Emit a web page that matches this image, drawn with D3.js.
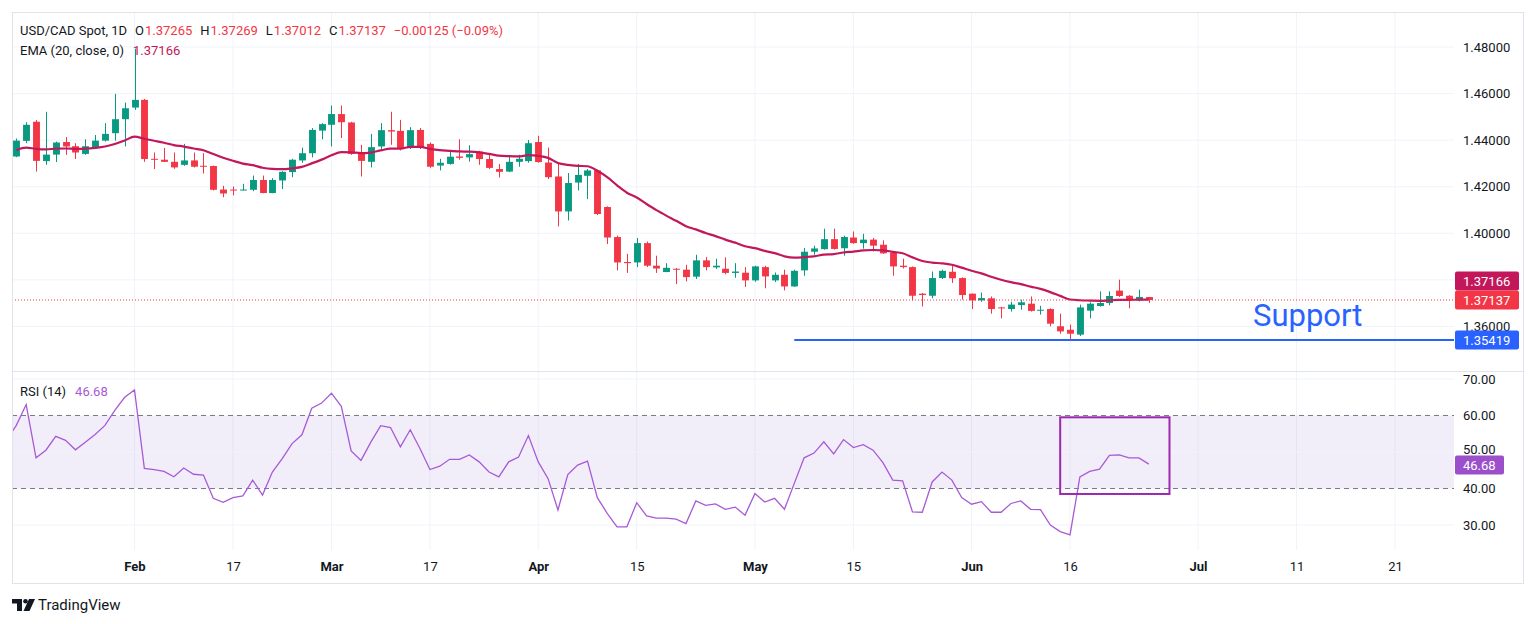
<!DOCTYPE html>
<html>
<head>
<meta charset="utf-8">
<script src="https://cdn.jsdelivr.net/npm/d3@7/dist/d3.min.js"></script>
<style>
    html, body { margin: 0; padding: 0; background: #fff; }
    svg { display: block; font-family: Roboto, "Trebuchet MS", sans-serif; }
</style>
</head>
<body>
<svg id="chart" width="1536" height="624"></svg>
<script>
// bar index 0 = Feb 3 2025, one bar per trading day
const firstBar = -12;
// [open, high, low, close]
const candles = [
    [1.4330, 1.4407, 1.4327, 1.4398], [1.4397, 1.4477, 1.4387, 1.4466], [1.4479, 1.4486, 1.4265, 1.4311],
    [1.4310, 1.4522, 1.4294, 1.4338], [1.4338, 1.4394, 1.4306, 1.4390], [1.4392, 1.4413, 1.4337, 1.4373],
    [1.4374, 1.4387, 1.4319, 1.4347], [1.4341, 1.4404, 1.4337, 1.4374], [1.4370, 1.4422, 1.4366, 1.4398],
    [1.4398, 1.4473, 1.4394, 1.4427], [1.4430, 1.4599, 1.4398, 1.4490], [1.4490, 1.4561, 1.4373, 1.4537],
    [1.4540, 1.4793, 1.4530, 1.4573], [1.4573, 1.4577, 1.4307, 1.4319], [1.4320, 1.4347, 1.4276, 1.4317],
    [1.4316, 1.4367, 1.4306, 1.4307], [1.4307, 1.4347, 1.4277, 1.4283], [1.4294, 1.4384, 1.4290, 1.4313],
    [1.4313, 1.4347, 1.4283, 1.4286], [1.4290, 1.4344, 1.4257, 1.4287], [1.4289, 1.4291, 1.4184, 1.4187],
    [1.4188, 1.4204, 1.4155, 1.4171], [1.4188, 1.4201, 1.4163, 1.4186], [1.4186, 1.4213, 1.4184, 1.4188],
    [1.4187, 1.4248, 1.4181, 1.4229], [1.4229, 1.4248, 1.4172, 1.4173], [1.4173, 1.4237, 1.4172, 1.4229],
    [1.4227, 1.4267, 1.4190, 1.4264], [1.4263, 1.4320, 1.4241, 1.4316], [1.4313, 1.4368, 1.4303, 1.4344],
    [1.4344, 1.4452, 1.4326, 1.4444], [1.4441, 1.4473, 1.4404, 1.4469], [1.4466, 1.4549, 1.4373, 1.4512],
    [1.4512, 1.4549, 1.4409, 1.4477], [1.4476, 1.4479, 1.4337, 1.4341], [1.4344, 1.4380, 1.4244, 1.4311],
    [1.4307, 1.4427, 1.4283, 1.4370], [1.4373, 1.4473, 1.4356, 1.4443], [1.4443, 1.4522, 1.4380, 1.4437],
    [1.4440, 1.4487, 1.4356, 1.4362], [1.4366, 1.4456, 1.4362, 1.4443], [1.4444, 1.4452, 1.4362, 1.4368],
    [1.4384, 1.4390, 1.4281, 1.4286], [1.4291, 1.4320, 1.4270, 1.4303], [1.4298, 1.4351, 1.4295, 1.4329],
    [1.4330, 1.4404, 1.4316, 1.4324], [1.4326, 1.4378, 1.4308, 1.4340], [1.4351, 1.4354, 1.4294, 1.4319],
    [1.4319, 1.4336, 1.4276, 1.4281], [1.4276, 1.4298, 1.4240, 1.4264], [1.4265, 1.4333, 1.4263, 1.4307],
    [1.4307, 1.4337, 1.4286, 1.4320], [1.4310, 1.4401, 1.4303, 1.4387], [1.4392, 1.4419, 1.4303, 1.4306],
    [1.4304, 1.4368, 1.4233, 1.4241], [1.4244, 1.4304, 1.4030, 1.4094], [1.4094, 1.4259, 1.4055, 1.4216],
    [1.4218, 1.4298, 1.4184, 1.4251], [1.4247, 1.4276, 1.4147, 1.4270], [1.4270, 1.4273, 1.4078, 1.4083],
    [1.4113, 1.4116, 1.3954, 1.3982], [1.3984, 1.3990, 1.3841, 1.3875], [1.3877, 1.3912, 1.3830, 1.3872],
    [1.3875, 1.3980, 1.3855, 1.3958], [1.3958, 1.3965, 1.3855, 1.3861], [1.3861, 1.3904, 1.3830, 1.3849],
    [1.3834, 1.3872, 1.3833, 1.3852], [1.3848, 1.3851, 1.3782, 1.3844], [1.3844, 1.3865, 1.3794, 1.3812],
    [1.3814, 1.3908, 1.3804, 1.3884], [1.3884, 1.3898, 1.3841, 1.3855], [1.3854, 1.3891, 1.3847, 1.3861],
    [1.3848, 1.3897, 1.3824, 1.3830], [1.3830, 1.3872, 1.3809, 1.3836], [1.3831, 1.3855, 1.3770, 1.3798],
    [1.3798, 1.3861, 1.3792, 1.3858], [1.3855, 1.3861, 1.3764, 1.3815], [1.3798, 1.3832, 1.3791, 1.3822],
    [1.3822, 1.3844, 1.3755, 1.3772], [1.3772, 1.3844, 1.3770, 1.3839], [1.3841, 1.3937, 1.3818, 1.3921],
    [1.3921, 1.3947, 1.3908, 1.3935], [1.3932, 1.4020, 1.3930, 1.3975], [1.3975, 1.4020, 1.3930, 1.3933],
    [1.3936, 1.3990, 1.3904, 1.3984], [1.3982, 1.4008, 1.3955, 1.3958], [1.3958, 1.3998, 1.3934, 1.3973],
    [1.3973, 1.3980, 1.3922, 1.3947], [1.3951, 1.3970, 1.3912, 1.3914], [1.3918, 1.3921, 1.3818, 1.3858],
    [1.3861, 1.3891, 1.3849, 1.3855], [1.3855, 1.3858, 1.3712, 1.3732], [1.3741, 1.3744, 1.3686, 1.3735],
    [1.3732, 1.3836, 1.3721, 1.3808], [1.3808, 1.3844, 1.3804, 1.3839], [1.3835, 1.3861, 1.3787, 1.3807],
    [1.3808, 1.3811, 1.3715, 1.3735], [1.3741, 1.3742, 1.3675, 1.3712], [1.3712, 1.3746, 1.3706, 1.3722],
    [1.3721, 1.3729, 1.3655, 1.3675], [1.3682, 1.3684, 1.3635, 1.3678], [1.3675, 1.3706, 1.3664, 1.3694],
    [1.3692, 1.3715, 1.3672, 1.3704], [1.3698, 1.3729, 1.3664, 1.3667], [1.3668, 1.3689, 1.3651, 1.3672],
    [1.3675, 1.3678, 1.3601, 1.3612], [1.3601, 1.3655, 1.3569, 1.3579], [1.3586, 1.3608, 1.3542, 1.3569],
    [1.3565, 1.3694, 1.3559, 1.3682], [1.3668, 1.3704, 1.3635, 1.3698], [1.3688, 1.3751, 1.3685, 1.3701],
    [1.3701, 1.3751, 1.3691, 1.3731], [1.3754, 1.3801, 1.3727, 1.3731], [1.3732, 1.3735, 1.3678, 1.3715],
    [1.3712, 1.3758, 1.3708, 1.3727], [1.37265, 1.37269, 1.37012, 1.37137]
];

// EMA(20) value on the first visible bar
const emaSeed = 1.4358;
const emaLength = 20;
const emaLast = 1.37166;

// RSI(14), starts one bar before the first candle
const rsiFirstBar = -13;
const rsiValues = [
    53.2, 57.3, 63.0, 48.4, 50.5, 54.3, 53.2, 50.6, 52.7, 54.8, 57.3, 61.4, 65.0, 67.0,
    45.5, 45.2, 44.7, 43.2, 45.6, 43.9, 43.7, 37.3, 36.2, 37.5,
    38.0, 42.3, 38.2, 44.5, 48.2, 52.3, 54.7, 62.0, 63.4, 66.1,
    62.5, 50.3, 47.7, 52.7, 57.2, 56.7, 51.4, 56.1, 50.9, 45.2,
    46.1, 48.0, 48.0, 49.2, 47.3, 44.5, 43.2, 47.3, 48.6, 54.5,
    47.3, 42.7, 34.1, 43.8, 46.4, 47.5, 37.5, 33.2, 29.5, 29.5,
    36.1, 32.5, 31.9, 31.9, 31.6, 30.4, 36.6, 35.4, 35.8, 34.3,
    34.9, 32.7, 38.6, 36.3, 37.3, 34.3, 41.4, 48.4, 49.7, 52.8,
    49.5, 53.4, 51.2, 52.0, 50.5, 47.1, 42.3, 42.1, 33.6, 33.5,
    41.8, 44.5, 42.3, 37.5, 35.7, 36.4, 33.5, 33.5, 35.9, 36.6,
    34.3, 34.2, 30.0, 28.2, 27.3, 43.2, 44.7, 45.3, 49.1, 49.2,
    48.4, 48.4, 46.68
];

const tickBars = [0, 10, 20, 30, 41, 51, 63, 73, 85, 95, 108, 118, 128];
const tickLabels = ["Feb", "17", "Mar", "17", "Apr", "15", "May", "15", "Jun", "16", "Jul", "11", "21"];
const monthLabels = ["Feb", "Mar", "Apr", "May", "Jun", "Jul"];

const priceTicks = [1.48, 1.46, 1.44, 1.42, 1.40, 1.38, 1.36];
const rsiTicks = [70, 60, 50, 40, 30];
const rsiBand = [60, 40];

const supportLevel = 1.35419;
const supportFromBar = 67;
// highlight box on the RSI pane: bars and RSI range
const boxBars = [94, 105.1];
const boxRsi = [59.5, 38.5];

const symbolText = "USD/CAD Spot, 1D";
const ohlcKeys = ["O", "H", "L", "C"];
const ohlcText = ["1.37265", "1.37269", "1.37012", "1.37137"];
const changeText = "\u22120.00125 (\u22120.09%)";

// ---------------------------------------------------------------

const C = {
    text: "#131722", grid: "#f0f3fa", border: "#e0e3eb",
    up: "#089981", down: "#f23645", ema: "#c2185b",
    rsi: "#a85ad6", rsiBox: "#9c4fcb", band: "rgba(126, 87, 194, 0.1)",
    blue: "#2962ff", boxPurple: "#9c27b0"
};

const frame = { left: 12, top: 12, right: 1523, bottom: 583 };
const paneRight = 1454;
const priceBottom = 371;
const rsiBottom = 550;

const svg = d3.select("#chart");

const x = d3.scaleLinear().domain([0, 128]).range([134.5, 1395]);
const y = d3.scaleLinear().domain([1.36, 1.48]).range([326.5, 47]);
const yR = d3.scaleLinear().domain([30, 70]).range([525, 379]);

const bars = candles.map((c, k) => ({ bar: firstBar + k, o: c[0], h: c[1], l: c[2], c: c[3] }));

// EMA from closes
let e = emaSeed;
const ema = bars.map((d, k) => {
    if (k > 0) e = e + (2 / (emaLength + 1)) * (d.c - e);
    return { bar: d.bar, v: e };
});

const rsi = rsiValues.map((v, k) => ({ bar: rsiFirstBar + k, v }));

// clip paths
const defs = svg.append("defs");
defs.append("clipPath").attr("id", "clipPrice").append("rect")
    .attr("x", frame.left).attr("y", frame.top)
    .attr("width", paneRight - frame.left).attr("height", priceBottom - frame.top);
defs.append("clipPath").attr("id", "clipRsi").append("rect")
    .attr("x", frame.left).attr("y", priceBottom)
    .attr("width", paneRight - frame.left).attr("height", rsiBottom - priceBottom);

// vertical grid
svg.append("g").selectAll("line")
    .data(tickBars)
    .enter().append("line")
    .attr("x1", d => x(d)).attr("x2", d => x(d))
    .attr("y1", frame.top).attr("y2", rsiBottom)
    .attr("stroke", C.grid);

// horizontal price grid
svg.append("g").selectAll("line")
    .data(priceTicks)
    .enter().append("line")
    .attr("x1", frame.left).attr("x2", paneRight)
    .attr("y1", d => y(d)).attr("y2", d => y(d))
    .attr("stroke", C.grid);

// price pane
const gp = svg.append("g").attr("clip-path", "url(#clipPrice)");

const bodyW = (x(1) - x(0)) * 0.7;
const candle = gp.selectAll(".candle")
    .data(bars)
    .enter().append("g")
    .attr("fill", d => d.c >= d.o ? C.up : C.down)
    .attr("stroke", d => d.c >= d.o ? C.up : C.down);

candle.append("line")
    .attr("x1", d => Math.round(x(d.bar)) + 0.5).attr("x2", d => Math.round(x(d.bar)) + 0.5)
    .attr("y1", d => y(d.h)).attr("y2", d => y(d.l))
    .attr("stroke-width", 1);

candle.append("rect")
    .attr("x", d => Math.round(x(d.bar)) + 0.5 - bodyW / 2)
    .attr("y", d => y(Math.max(d.o, d.c)))
    .attr("width", bodyW)
    .attr("height", d => Math.max(1, Math.abs(y(d.o) - y(d.c))))
    .attr("stroke", "none");

// EMA
gp.append("path")
    .datum(ema)
    .attr("fill", "none")
    .attr("stroke", C.ema)
    .attr("stroke-width", 2.2)
    .attr("stroke-linejoin", "round")
    .attr("d", d3.line().x(d => x(d.bar)).y(d => y(d.v)).curve(d3.curveMonotoneX));

// last price dotted line
const lastClose = bars[bars.length - 1].c;
gp.append("line")
    .attr("x1", frame.left).attr("x2", paneRight)
    .attr("y1", y(lastClose)).attr("y2", y(lastClose))
    .attr("stroke", C.down).attr("stroke-width", 1)
    .attr("stroke-dasharray", "1,2");

// support line
gp.append("line")
    .attr("x1", x(supportFromBar)).attr("x2", paneRight)
    .attr("y1", y(supportLevel)).attr("y2", y(supportLevel))
    .attr("stroke", C.blue).attr("stroke-width", 2);

svg.append("text")
    .attr("x", 1253).attr("y", y(supportLevel) - 14)
    .style("font-size", "31px")
    .style("fill", C.blue)
    .text("Support");

// RSI pane
const gr = svg.append("g").attr("clip-path", "url(#clipRsi)");

gr.append("rect")
    .attr("x", frame.left).attr("width", paneRight - frame.left)
    .attr("y", yR(rsiBand[0])).attr("height", yR(rsiBand[1]) - yR(rsiBand[0]))
    .attr("fill", C.band);

gr.selectAll(".rgrid")
    .data([70, 50, 30])
    .enter().append("line")
    .attr("x1", frame.left).attr("x2", paneRight)
    .attr("y1", d => yR(d)).attr("y2", d => yR(d))
    .attr("stroke", C.grid);

gr.selectAll(".band")
    .data(rsiBand)
    .enter().append("line")
    .attr("x1", frame.left).attr("x2", paneRight)
    .attr("y1", d => yR(d)).attr("y2", d => yR(d))
    .attr("stroke", "#787b86").attr("stroke-width", 1)
    .attr("stroke-dasharray", "5,4");

gr.append("path")
    .datum(rsi)
    .attr("fill", "none")
    .attr("stroke", C.rsi)
    .attr("stroke-width", 1.3)
    .attr("d", d3.line().x(d => x(d.bar)).y(d => yR(d.v)));

gr.append("rect")
    .attr("x", x(boxBars[0])).attr("width", x(boxBars[1]) - x(boxBars[0]))
    .attr("y", yR(boxRsi[0])).attr("height", yR(boxRsi[1]) - yR(boxRsi[0]))
    .attr("fill", "none")
    .attr("stroke", C.boxPurple).attr("stroke-width", 2);

// frame and pane separator
svg.append("rect")
    .attr("x", frame.left + 0.5).attr("y", frame.top + 0.5)
    .attr("width", frame.right - frame.left).attr("height", frame.bottom - frame.top)
    .attr("fill", "none").attr("stroke", C.border);
svg.append("line")
    .attr("x1", frame.left).attr("x2", frame.right)
    .attr("y1", priceBottom + 0.5).attr("y2", priceBottom + 0.5)
    .attr("stroke", C.border);

// price axis
const priceAxis = svg.append("g")
    .attr("transform", `translate(${paneRight}, 0)`)
    .call(d3.axisRight(y).tickValues(priceTicks).tickFormat(d3.format(".5f")).tickSize(0).tickPadding(9));
priceAxis.select(".domain").remove();
priceAxis.selectAll("text").style("font-size", "13px").style("fill", C.text)
    .style("font-family", "Roboto, sans-serif");

// RSI axis (50.00 sits partly under the value tag, as on the original)
const rsiAxis = svg.append("g")
    .attr("transform", `translate(${paneRight}, 0)`)
    .call(d3.axisRight(yR).tickValues(rsiTicks).tickFormat(d3.format(".2f")).tickSize(0).tickPadding(9));
rsiAxis.select(".domain").remove();
rsiAxis.selectAll("text").style("font-size", "13px").style("fill", C.text)
    .style("font-family", "Roboto, sans-serif")
    .attr("dy", d => d === 50 ? "0.1em" : "0.32em");

// time axis
const timeAxis = svg.append("g")
    .attr("transform", `translate(0, ${rsiBottom})`)
    .call(d3.axisBottom(x).tickValues(tickBars).tickFormat((d, i) => tickLabels[i]).tickSize(0).tickPadding(12));
timeAxis.select(".domain").remove();
timeAxis.selectAll("text")
    .style("font-size", "13px").style("fill", C.text)
    .style("font-family", "Roboto, sans-serif")
    .style("font-weight", (d, i) => monthLabels.includes(tickLabels[i]) ? "bold" : "normal");

// axis value tags
function priceTag(yc, color, label, w) {
    svg.append("rect")
        .attr("x", 1455).attr("y", yc - 9.5)
        .attr("width", w).attr("height", 19).attr("rx", 2)
        .attr("fill", color);
    svg.append("text")
        .attr("x", 1463).attr("y", yc + 4.5)
        .style("font-size", "13px").style("fill", "#fff")
        .text(label);
}
const closeY = y(lastClose);
priceTag(closeY - 19, C.ema, emaLast.toFixed(5), 64);
priceTag(closeY, C.down, lastClose.toFixed(5), 64);
priceTag(y(supportLevel), C.blue, supportLevel.toFixed(5), 64);
priceTag(yR(rsiValues[rsiValues.length - 1]) + 1, C.rsiBox, rsiValues[rsiValues.length - 1].toFixed(2), 49);

// legends, laid out left to right
const lg = svg.append("g").style("font-size", "13px");
function put(xPos, yPos, str, color) {
    const t = lg.append("text").attr("x", xPos).attr("y", yPos).style("fill", color).text(str);
    return xPos + t.node().getComputedTextLength();
}
let cx = put(20, 35, symbolText, C.text) + 8;
ohlcKeys.forEach((k, i) => {
    cx = put(cx, 35, k, C.text) + 1;
    cx = put(cx, 35, ohlcText[i], C.down) + 8;
});
put(cx, 35, changeText, C.down);

cx = put(20, 55, "EMA (20, close, 0)", C.text) + 9;
put(cx, 55, emaLast.toFixed(5), C.ema);

cx = put(20, 396, "RSI (14)", C.text) + 9;
put(cx, 396, rsiValues[rsiValues.length - 1].toFixed(2), C.rsi);

// TradingView mark
const logo = svg.append("g").attr("fill", C.text);
logo.append("path").attr("d", "M12,599 H22 V611 H17 V603.5 H12 Z");
logo.append("circle").attr("cx", 25.5).attr("cy", 601.3).attr("r", 2.3);
logo.append("path").attr("d", "M29,599 H35 L29.5,611 H23.5 Z");
svg.append("text")
    .attr("x", 38).attr("y", 610)
    .style("font-size", "15px").style("fill", C.text)
    .text("TradingView");
</script>
</body>
</html>
